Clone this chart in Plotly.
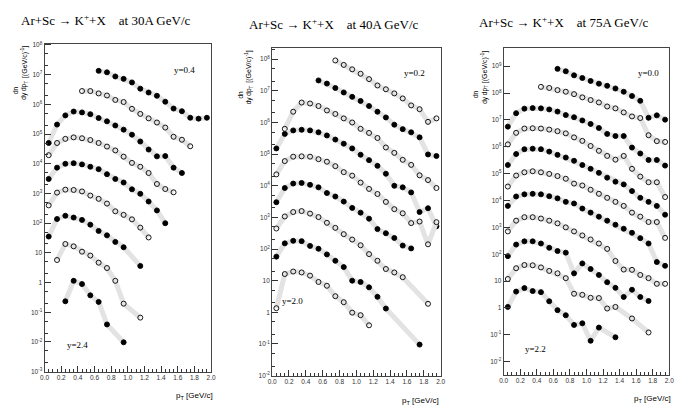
import plotly.graph_objects as go

# pT bin centres (GeV/c)
PT = [0.05, 0.15, 0.25, 0.35, 0.45, 0.55, 0.65, 0.75, 0.85, 0.95,
      1.05, 1.15, 1.25, 1.35, 1.45, 1.55, 1.65, 1.75, 1.85, 1.95]
N = None

# log10 of (scaled) dn/(dy dpT); None = no point
# ---- 30A GeV/c ----
P30_A = [N, N, N, N, N, N, 7.13, 7.08, 6.94, 6.86, 6.74, 6.53, 6.40, 6.29, 6.09, 5.86, 5.77, 5.55, 5.52, 5.55]
P30_B = [N, N, N, N, 6.45, 6.45, 6.37, 6.30, 6.15, 6.08, 5.85, 5.68, 5.53, 5.39, 5.22, 4.91, 4.81, 4.59, N, N]
P30_C = [4.70, 5.32, 5.63, 5.76, 5.73, 5.67, 5.54, 5.43, 5.29, 5.15, 4.98, 4.75, 4.48, 4.25, 4.26, 3.87, 3.69, N, N, N]
P30_D = [4.29, 4.70, 4.84, 4.89, 4.86, 4.80, 4.70, 4.58, 4.45, 4.24, 4.03, 3.90, 3.69, 3.32, 3.15, 3.04, N, N, N, N]
P30_E = [3.49, 3.87, 4.00, 4.02, 3.98, 3.90, 3.82, 3.65, 3.49, 3.37, 3.14, 2.99, 2.73, 2.43, 2.00, N, N, N, N, N]
P30_F = [2.60, 3.03, 3.13, 3.12, 3.07, 2.93, 2.82, 2.66, 2.40, 2.28, 2.13, 1.85, 1.52, N, N, N, N, N, N, N]
P30_G = [1.55, 2.14, 2.25, 2.19, 2.11, 1.95, 1.74, 1.59, 1.37, 1.19, N, 0.56, N, N, N, N, N, N, N, N]
P30_H = [N, 0.76, 1.30, 1.22, 1.04, 0.91, 0.67, 0.49, 0.06, -0.71, N, -1.18, N, N, N, N, N, N, N, N]
P30_I = [N, N, -0.63, 0.06, -0.05, -0.43, -0.65, -1.41, N, -2.01, N, N, N, N, N, N, N, N, N, N]

# ---- 40A GeV/c ----
P40_A = [N, N, N, N, N, N, N, 7.96, 7.82, 7.68, 7.54, 7.37, 7.17, 7.05, 6.92, 6.76, 6.54, 6.42, 6.02, 6.13]
P40_B = [N, N, N, N, N, 7.33, 7.23, 7.09, 6.95, 6.81, 6.68, 6.52, 6.34, 6.16, 5.93, 5.79, 5.69, 5.53, 4.99, 4.94]
P40_C = [N, 5.80, 6.34, 6.63, 6.60, 6.52, 6.38, 6.27, 6.13, 6.00, 5.80, 5.67, 5.51, 5.21, 5.04, 4.82, 4.66, 4.33, 4.18, 3.93]
P40_D = [5.18, 5.64, 5.75, 5.77, 5.75, 5.69, 5.59, 5.46, 5.33, 5.18, 4.98, 4.81, 4.63, 4.38, 4.00, 3.95, 3.79, 3.17, 3.29, 2.72]
P40_E = [4.36, 4.78, 4.92, 4.93, 4.92, 4.84, 4.76, 4.62, 4.43, 4.32, 4.10, 3.90, 3.74, 3.49, 3.26, 3.13, 2.82, 2.87, 2.15, 2.85]
P40_F = [3.48, 3.93, 4.07, 4.09, 4.03, 3.95, 3.77, 3.66, 3.50, 3.30, 3.15, 2.96, 2.63, 2.50, 2.35, 2.11, 2.02, N, N, N]
P40_G = [2.65, 3.03, 3.17, 3.20, 3.12, 3.01, 2.83, 2.67, 2.47, 2.30, 2.12, 1.84, 1.63, 1.37, 1.26, 1.11, N, N, 0.27, N]
P40_H = [1.76, 2.18, 2.26, 2.25, 2.10, 2.01, 1.83, 1.63, 1.43, 1.00, 0.96, 0.79, 0.49, 0.12, N, N, N, -1.02, N, N]
P40_I = [0.13, 1.21, 1.29, 1.26, 1.16, 0.96, 0.84, 0.51, 0.32, -0.01, -0.09, -0.41, N, N, N, N, N, N, N, N]

# ---- 75A GeV/c ----
P75_A = [N, N, N, N, N, N, 8.90, 8.81, 8.66, 8.56, 8.45, 8.35, 8.27, 8.17, 8.05, 7.89, 7.71, 7.08, 7.17, 7.01]
P75_B = [N, N, N, N, 8.23, 8.19, 8.11, 8.05, 7.96, 7.84, 7.74, 7.65, 7.50, 7.43, 7.28, 7.13, 7.07, 6.43, 6.21, 6.18]
P75_C = [6.75, 7.25, 7.42, 7.44, 7.43, 7.39, 7.31, 7.18, 7.10, 6.98, 6.85, 6.70, 6.48, 6.40, 6.40, 5.97, 5.75, 5.51, 5.51, 5.30]
P75_D = [6.09, 6.52, 6.68, 6.69, 6.68, 6.64, 6.58, 6.50, 6.35, 6.22, 6.03, 5.85, 5.66, 5.52, 5.66, 5.18, 4.89, 4.68, 4.68, 4.13]
P75_E = [5.32, 5.73, 5.91, 5.93, 5.91, 5.82, 5.70, 5.60, 5.48, 5.32, 5.18, 5.03, 4.85, 4.70, 4.60, 4.35, 4.10, 3.95, 3.80, 3.47]
P75_F = [4.52, 4.93, 5.05, 5.09, 5.05, 4.99, 4.91, 4.81, 4.63, 4.56, 4.40, 4.25, 4.10, 3.95, 3.80, 3.55, 3.40, 3.20, 3.20, 2.61]
P75_G = [3.80, 4.15, 4.23, 4.25, 4.23, 4.16, 4.08, 3.95, 3.89, 3.70, 3.55, 3.40, 3.25, 3.10, 2.95, 2.80, 2.60, 2.40, 1.71, 1.57]
P75_H = [2.85, 3.25, 3.38, 3.38, 3.33, 3.25, 3.15, 3.00, 2.85, 2.70, 2.55, 2.40, 2.20, 1.75, 1.43, 1.42, 1.23, 1.11, 0.90, 0.90]
P75_I = [1.93, 2.36, 2.48, 2.48, 2.40, 2.24, 2.12, 2.06, 1.29, 1.66, 1.45, 1.23, 0.96, 0.75, 0.41, 0.68, 0.41, 0.26, N, N]
P75_J = [1.08, 1.48, 1.60, 1.59, 1.51, 1.38, 1.29, 1.11, 0.53, 0.49, 0.38, 0.37, -0.02, 0.04, N, -0.39, N, -0.91, N, N]
P75_K = [0.04, 0.61, 0.74, 0.63, 0.59, 0.25, -0.08, -0.27, -0.63, -0.57, -1.22, -0.73, N, -1.09, N, N, N, N, N, N]

PANEL_TITLES = ["Ar+Sc \u2192 K<sup>+</sup>+X    at 30A GeV/c",
                "Ar+Sc \u2192 K<sup>+</sup>+X    at 40A GeV/c",
                "Ar+Sc \u2192 K<sup>+</sup>+X    at 75A GeV/c"]
TOP_LABELS = ["y=0.4", "y=0.2", "y=0.0"]
BOTTOM_LABELS = ["y=2.4", "y=2.0", "y=2.2"]
X_TICKS = [0.0, 0.2, 0.4, 0.6, 0.8, 1.0, 1.2, 1.4, 1.6, 1.8, 2.0]

PANELS = [
    dict(series=[P30_A, P30_B, P30_C, P30_D, P30_E, P30_F, P30_G, P30_H, P30_I],
         first_filled=True, exps=list(range(-3, 9)), yr=[-3.0, 8.05]),
    dict(series=[P40_A, P40_B, P40_C, P40_D, P40_E, P40_F, P40_G, P40_H, P40_I],
         first_filled=False, exps=list(range(-2, 9)), yr=[-2.0, 8.34]),
    dict(series=[P75_A, P75_B, P75_C, P75_D, P75_E, P75_F, P75_G, P75_H, P75_I, P75_J, P75_K],
         first_filled=True, exps=list(range(-2, 10)), yr=[-2.48, 9.66]),
]

W, H = 683, 412
OFF = 8  # the page body margin shifts the figure by 8 px right and down
# plot-area boxes in window pixels (left, right, top, bottom)
BOXES = [(40, 209, 41, 374), (271, 442, 46, 378), (506, 674, 46, 377)]


def px(x):
    return (x - OFF) / W


def py(y):
    return 1 - (y - OFF) / H


def exp_label(k):
    if k == 0:
        return "1"
    if k == 1:
        return "10"
    return "10<sup>%d</sup>" % k


fig = go.Figure()
annotations = []
layout_axes = {}
tick_font = dict(family="Liberation Sans, Arial", size=6.5, color="#333")

for p, panel in enumerate(PANELS):
    xa = "x" if p == 0 else "x%d" % (p + 1)
    ya = "y" if p == 0 else "y%d" % (p + 1)
    for s, vals in enumerate(panel["series"]):
        xs = [PT[i] for i, v in enumerate(vals) if v is not None]
        ys = [10 ** v for v in vals if v is not None]
        filled = (s % 2 == 0) == panel["first_filled"]
        # systematic band drawn as a wide light-grey line
        fig.add_trace(go.Scatter(x=xs, y=ys, mode="lines", xaxis=xa, yaxis=ya,
                                 line=dict(color="#e3e3e3", width=5),
                                 hoverinfo="skip", showlegend=False))
        fig.add_trace(go.Scatter(
            x=xs, y=ys, mode="markers", xaxis=xa, yaxis=ya, showlegend=False,
            marker=dict(symbol="circle" if filled else "circle-open", size=5,
                        color="black", line=dict(color="black", width=0.9))))

    l, r, t, b = BOXES[p]
    key = "" if p == 0 else str(p + 1)
    layout_axes["xaxis" + key] = dict(
        domain=[px(l), px(r)], anchor=ya, range=[0, 2.0],
        tickvals=X_TICKS, ticktext=["%.1f" % v for v in X_TICKS],
        ticks="inside", ticklen=6, tickwidth=0.8, tickcolor="#333",
        minor=dict(ticks="inside", ticklen=3, dtick=0.05, tickcolor="#333"),
        showline=True, mirror=True, linecolor="#444", linewidth=1,
        showgrid=False, zeroline=False, tickfont=tick_font)
    exps = panel["exps"]
    layout_axes["yaxis" + key] = dict(
        domain=[py(b), py(t)], anchor=xa, type="log",
        range=panel["yr"], tickvals=[10 ** k for k in exps],
        ticktext=[exp_label(k) for k in exps],
        ticks="inside", ticklen=6, tickwidth=0.8, tickcolor="#333",
        minor=dict(ticks="inside", ticklen=3, tickcolor="#333"),
        showline=True, mirror=True, linecolor="#444", linewidth=1,
        showgrid=False, zeroline=False, tickfont=tick_font)


def ann(x, y, text, size, family, angle=0, xanchor="center"):
    annotations.append(dict(x=px(x), y=py(y), xref="paper", yref="paper",
                            text=text, showarrow=False, textangle=angle,
                            xanchor=xanchor, yanchor="middle",
                            font=dict(family=family, size=size, color="black")))


serif = "Liberation Serif, Times New Roman, serif"
sans = "Liberation Sans, Arial, sans-serif"
title_pos = [(14, 17), (245, 21), (479, 19)]
top_lab = [(182, 68), (415, 71), (653, 71)]
bot_lab = [(73, 347), (292, 302), (538, 351)]
xt_pos = [(192, 399), (422, 404), (657, 402)]
yt_pos = [(17, 42), (245, 47), (484, 47)]
for p in range(3):
    ann(title_pos[p][0], title_pos[p][1], PANEL_TITLES[p], 13, serif, xanchor="left")
    ann(top_lab[p][0], top_lab[p][1], TOP_LABELS[p], 9, serif)
    ann(bot_lab[p][0], bot_lab[p][1], BOTTOM_LABELS[p], 9, serif)
    ann(xt_pos[p][0], xt_pos[p][1], "p<sub>T</sub> [GeV/c]", 8, sans)
    x0, top = yt_pos[p]
    ann(x0 + 2, top + 18, "[(GeV/c)<sup>-1</sup>]", 7, sans, angle=-90)
    ann(x0 - 1, top + 46, "dn<br>dy dp<sub>T</sub>", 6.5, sans, angle=-90)

fig.update_layout(width=W, height=H, margin=dict(l=0, r=0, t=0, b=0),
                  paper_bgcolor="white", plot_bgcolor="white",
                  showlegend=False, annotations=annotations, **layout_axes)

fig.write_html("out.html")
